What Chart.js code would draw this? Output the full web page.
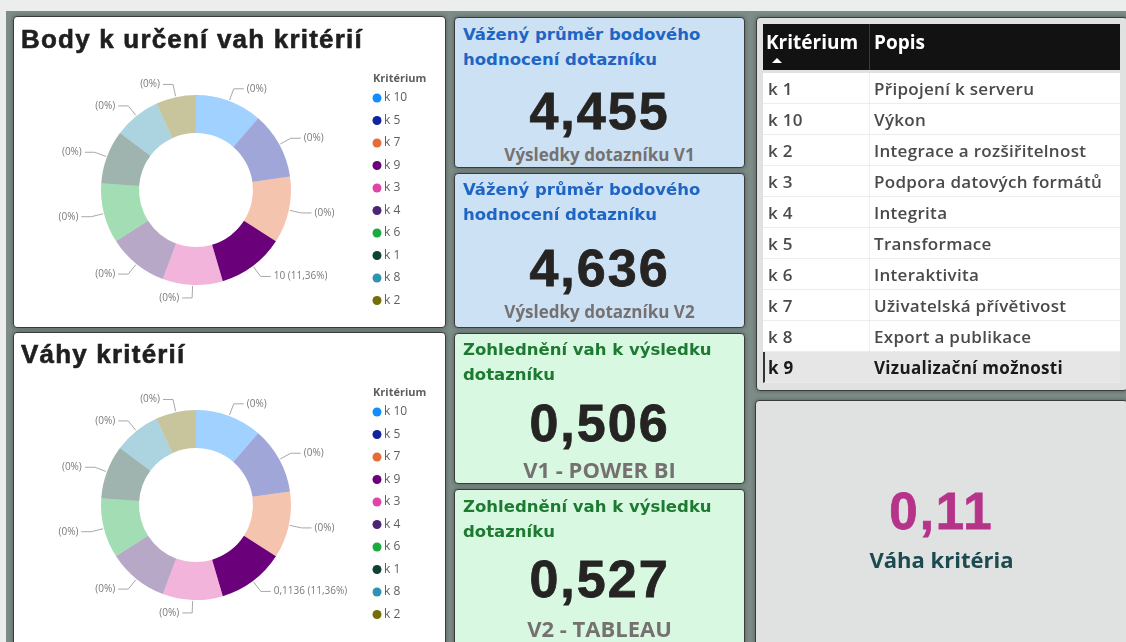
<!DOCTYPE html>
<html lang="cs">
<head>
<meta charset="utf-8">
<script src="https://cdn.jsdelivr.net/npm/chart.js@4.4.1/dist/chart.umd.min.js"></script>
<style>
  html, body { margin: 0; padding: 0; }
  body { width: 1126px; height: 642px; overflow: hidden; position: relative; background: #eceeed; font-family: "Open Sans", sans-serif; }
  .frame { position: absolute; left: 6px; top: 11px; width: 1120px; height: 631px; background: #7d8c87; }
  .panel { position: absolute; box-sizing: border-box; border: 1px solid #3b3b3b; border-radius: 4px; box-shadow: 0 0 4px rgba(0,0,0,0.35); overflow: hidden; }
  .white { background: #ffffff; }
  .blue { background: #cde1f4; }
  .green { background: #d9f8e2; }
  .grey { background: #e0e2e1; }
  .t { position: absolute; white-space: nowrap; transform: translateY(-50%); }
  .ptitle { left: 7px; font: bold 26px "Liberation Sans", Arial, sans-serif; letter-spacing: 1.2px; color: #1f1f1f; -webkit-text-stroke: 0.6px #1f1f1f; }
  .ctitle { left: 8px; font: bold 16.5px "DejaVu Sans", sans-serif; line-height: 25px; }
  .cval { left: 0; right: 0; text-align: center; font: bold 52px "Liberation Sans", Arial, sans-serif; letter-spacing: 2px; color: #252423; -webkit-text-stroke: 0.8px #252423; }
  .csub { left: 0; right: 0; text-align: center; font-weight: 700; color: #767171; }
  canvas { position: absolute; left: 0; top: 0; }
  .thead { position: absolute; left: 6px; top: 6px; width: 357px; height: 46px; background: #121212; }
  .thead .sep { position: absolute; left: 106px; top: 0; bottom: 0; width: 1px; background: #3a3a3a; }
  .thead span { position: absolute; top: 18px; transform: translateY(-50%); color: #fff; font: bold 19px "Open Sans", sans-serif; }
  .arrow { position: absolute; left: 9px; top: 34px; width: 0; height: 0; border-left: 5px solid transparent; border-right: 5px solid transparent; border-bottom: 5px solid #fff; }
  .row { position: absolute; left: 6px; width: 357px; height: 31px; background: #fff; box-sizing: border-box; border-bottom: 1px solid #ececec; }
  .row.sel { background: #e6e6e6; border-left: 2px solid #333; }
  .row .sep { position: absolute; left: 106px; top: 0; bottom: 0; width: 1px; background: #efefef; }
  .row.sel .sep { display: none; }
  .row span { position: absolute; top: 15px; transform: translateY(-50%); font: 600 17px "Open Sans", sans-serif; letter-spacing: 0.3px; color: #4a4a4a; white-space: nowrap; }
  .row.sel span { color: #1a1a1a; font-weight: 700; }
</style>
</head>
<body>
<div class="frame"></div>

<div class="panel white" style="left:13px; top:16px; width:433px; height:312px;">
  <canvas id="pointsChart" width="431" height="310"></canvas>
  <div class="t ptitle" style="top:22px;">Body k určení vah kritérií</div>
</div>

<div class="panel white" style="left:13px; top:332px; width:433px; height:320px;">
  <canvas id="weightsChart" width="431" height="318"></canvas>
  <div class="t ptitle" style="top:21px;">Váhy kritérií</div>
</div>

<div id="cards"></div>

<div class="panel grey" id="tablePanel" style="left:756px; top:17px; width:372px; height:374px;"></div>

<div class="panel grey" style="left:755px; top:400px; width:373px; height:260px;">
  <div class="t" id="kpiValue" style="left:0; right:0; top:110px; text-align:center; font:bold 51px 'Liberation Sans', Arial, sans-serif; letter-spacing:2px; color:#b5348a; -webkit-text-stroke:0.8px #b5348a;"></div>
  <div class="t" id="kpiLabel" style="left:0; right:0; top:158px; text-align:center; font:bold 22px 'Open Sans', sans-serif; color:#1b4a50;"></div>
</div>

<script>
// ── DATA ──
const criteria = ["k 10", "k 5", "k 7", "k 9", "k 3", "k 4", "k 6", "k 1", "k 8", "k 2"];
const points = [10, 10, 10, 10, 9, 9, 9, 8, 7, 6];
const weights = [0.1136, 0.1136, 0.1136, 0.1136, 0.1023, 0.1023, 0.1023, 0.0909, 0.0795, 0.0682];
const selected = "k 9";

const tableCriteria = ["k 1", "k 10", "k 2", "k 3", "k 4", "k 5", "k 6", "k 7", "k 8", "k 9"];
const tableDescriptions = [
  "Připojení k serveru", "Výkon", "Integrace a rozšiřitelnost", "Podpora datových formátů",
  "Integrita", "Transformace", "Interaktivita", "Uživatelská přívětivost",
  "Export a publikace", "Vizualizační možnosti"
];

const cardTitles = [
  "Vážený průměr bodového<br>hodnocení dotazníku",
  "Vážený průměr bodového<br>hodnocení dotazníku",
  "Zohlednění vah k výsledku<br>dotazníku",
  "Zohlednění vah k výsledku<br>dotazníku"
];
const cardValues = ["4,455", "4,636", "0,506", "0,527"];
const cardSubtitles = ["Výsledky dotazníku V1", "Výsledky dotazníku V2", "V1 - POWER BI", "V2 - TABLEAU"];
const kpiValue = "0,11";
const kpiLabel = "Váha kritéria";

// ── STYLES ──
const legendColors = ["#118DFF", "#12239E", "#E66C37", "#6B007B", "#E044A7", "#4D2575", "#1AAB40", "#0F4137", "#2D93B1", "#756E07"];
const sliceColors = criteria.map((c, i) => (c === selected ? legendColors[i] : legendColors[i] + "66"));

// cards
const cardBoxes = [
  { left: 454, top: 17, h: 151, cls: "blue", col: "#1f66c4", t1: 16, v: 93, s: 136, sub: "bold 17px 'Open Sans'" },
  { left: 454, top: 173, h: 155, cls: "blue", col: "#1f66c4", t1: 15, v: 94, s: 137, sub: "bold 17px 'Open Sans'" },
  { left: 454, top: 333, h: 151, cls: "green", col: "#1d7a31", t1: 15, v: 89, s: 135, sub: "bold 22px 'Open Sans'" },
  { left: 454, top: 489, h: 165, cls: "green", col: "#1d7a31", t1: 16, v: 89, s: 138, sub: "bold 22px 'Open Sans'" },
];
const cardsEl = document.getElementById("cards");
cardBoxes.forEach((b, i) => {
  const d = document.createElement("div");
  d.className = "panel " + b.cls;
  d.style.cssText = `left:${b.left}px; top:${b.top}px; width:291px; height:${b.h}px;`;
  d.innerHTML =
    `<div class="t ctitle" style="top:${b.t1 + 12.5}px; color:${b.col};">${cardTitles[i]}</div>` +
    `<div class="t cval" style="top:${b.v}px;">${cardValues[i]}</div>` +
    `<div class="t csub" style="top:${b.s}px; font:${b.sub};">${cardSubtitles[i]}</div>`;
  cardsEl.appendChild(d);
});

// table
const tp = document.getElementById("tablePanel");
let html = '<div class="thead"><div class="sep"></div><span style="left:3px;">Kritérium</span><div class="arrow"></div><span style="left:111px;">Popis</span></div>';
tableCriteria.forEach((k, i) => {
  const sel = k === selected;
  html += `<div class="row${sel ? " sel" : ""}" style="top:${55 + i * 31}px;"><div class="sep"></div>` +
    `<span style="left:${sel ? 3 : 5}px;">${k}</span><span style="left:${sel ? 109 : 111}px;">${tableDescriptions[i]}</span></div>`;
});
tp.innerHTML = html;

document.getElementById("kpiValue").textContent = kpiValue;
document.getElementById("kpiLabel").textContent = kpiLabel;

// ── PLUGINS ──
const donutLabels = {
  id: "donutLabels",
  afterDatasetsDraw(chart, args, opts) {
    const ctx = chart.ctx;
    const meta = chart.getDatasetMeta(0);
    const data = chart.data.datasets[0].data;
    const total = data.reduce((a, b) => a + b, 0);
    ctx.save();
    ctx.font = '10px "Open Sans"';
    ctx.fillStyle = "#7a7a7a";
    ctx.strokeStyle = "#a8a8a8";
    ctx.lineWidth = 1;
    ctx.textBaseline = "middle";
    meta.data.forEach((arc, i) => {
      const a = (arc.startAngle + arc.endAngle) / 2;
      const r = arc.outerRadius;
      const x1 = arc.x + Math.cos(a) * (r + 1), y1 = arc.y + Math.sin(a) * (r + 1);
      const x2 = arc.x + Math.cos(a) * (r + 13), y2 = arc.y + Math.sin(a) * (r + 13);
      const dir = Math.cos(a) >= 0 ? 1 : -1;
      const x3 = x2 + dir * 10;
      ctx.beginPath();
      ctx.moveTo(x1, y1);
      ctx.lineTo(x2, y2);
      ctx.lineTo(x3, y2);
      ctx.stroke();
      let txt = "(0%)";
      if (chart.data.labels[i] === selected) {
        txt = opts.format(data[i]) + " (" + (data[i] / total * 100).toFixed(2).replace(".", ",") + "%)";
      }
      ctx.textAlign = dir > 0 ? "left" : "right";
      ctx.fillText(txt, x3 + dir * 3, y2);
    });
    ctx.restore();
  },
};

const sideLegend = {
  id: "sideLegend",
  afterDraw(chart, args, opts) {
    const ctx = chart.ctx;
    ctx.save();
    ctx.textBaseline = "middle";
    ctx.textAlign = "left";
    ctx.font = 'bold 11px "Open Sans"';
    ctx.fillStyle = "#605e5c";
    ctx.fillText(opts.title, opts.x, opts.y);
    ctx.font = '12px "Open Sans"';
    chart.data.labels.forEach((lab, i) => {
      const y = opts.y + 19 + i * 22.5;
      ctx.fillStyle = legendColors[i];
      ctx.beginPath();
      ctx.arc(opts.x + 4, y, 4.5, 0, Math.PI * 2);
      ctx.fill();
      ctx.fillStyle = "#605e5c";
      ctx.fillText(lab, opts.x + 11, y);
    });
    ctx.restore();
  },
};

function makeDonut(id, values, fmt, padTop, legendY) {
  const ctx = document.getElementById(id).getContext("2d");
  const h = ctx.canvas.height;
  return new Chart(ctx, {
    type: "doughnut",
    data: {
      labels: criteria,
      datasets: [{ data: values, backgroundColor: sliceColors, borderWidth: 0 }],
    },
    options: {
      responsive: false,
      animation: false,
      devicePixelRatio: 1,
      cutout: "60%",
      layout: { padding: { left: 87, right: 431 - 87 - 190, top: padTop, bottom: h - padTop - 190 } },
      plugins: {
        legend: { display: false },
        tooltip: { enabled: false },
        donutLabels: { format: fmt },
        sideLegend: { title: "Kritérium", x: 359, y: legendY },
      },
    },
    plugins: [donutLabels, sideLegend],
  });
}

makeDonut("pointsChart", points, (v) => String(v), 78, 62);
makeDonut("weightsChart", weights, (v) => v.toFixed(4).replace(".", ","), 77, 60);
</script>
</body>
</html>
